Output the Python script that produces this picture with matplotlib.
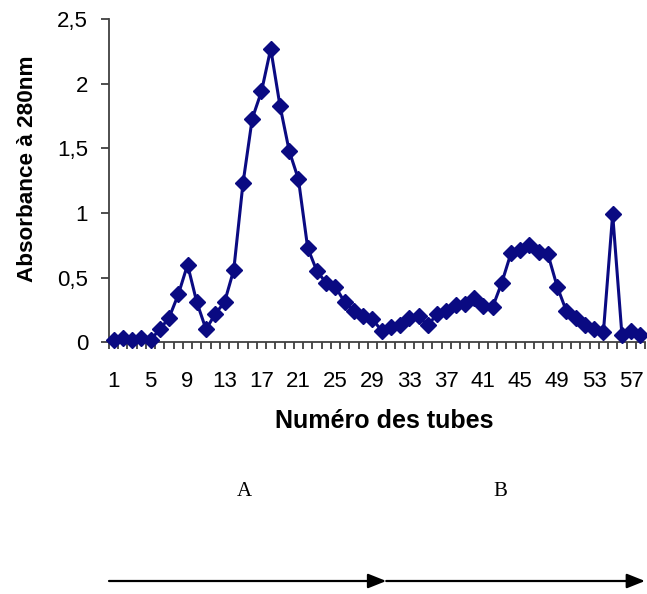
import numpy as np
import matplotlib
matplotlib.use('Agg')
import matplotlib.pyplot as plt
from matplotlib.ticker import FuncFormatter

# absorbance at 280 nm, tubes 1..58
tubes = np.arange(1, 59)
absorbance = [0.02, 0.03, 0.02, 0.03, 0.02, 0.10, 0.19, 0.37, 0.60, 0.31,
              0.10, 0.22, 0.31, 0.56, 1.23, 1.73, 1.94, 2.27, 1.83, 1.48,
              1.26, 0.73, 0.55, 0.46, 0.43, 0.31, 0.24, 0.20, 0.18, 0.09,
              0.12, 0.13, 0.19, 0.20, 0.13, 0.22, 0.24, 0.29, 0.30, 0.34,
              0.28, 0.27, 0.46, 0.69, 0.71, 0.75, 0.70, 0.68, 0.43, 0.24,
              0.19, 0.13, 0.10, 0.08, 0.99, 0.06, 0.09, 0.06]
xtick_labels = list(range(1, 58, 4))
fractions = ['A', 'B']
fraction_pos = [15.1, 42.8]
fraction_bounds = [0.5, 30.5, 58.5]

W, H = 647, 594
fig = plt.figure(figsize=(W / 100, H / 100), dpi=100)
ax = fig.add_axes([109 / W, 1 - 342.3 / H, (645 - 109) / W, (342.3 - 19) / H])

navy = '#0a0a82'
ax.plot(tubes, absorbance, color=navy, lw=2.2, marker='D', markersize=8,
        markerfacecolor=navy, markeredgecolor=navy, clip_on=False, zorder=3)

ax.set_xlim(0.5, 58.5)
ax.set_ylim(0, 2.5)

for s in ['top', 'right']:
    ax.spines[s].set_visible(False)
for s in ['left', 'bottom']:
    ax.spines[s].set_color('#404040')
    ax.spines[s].set_linewidth(1.3)

ax.set_xticks(xtick_labels)
ax.set_xticklabels([str(v) for v in xtick_labels])
ax.set_xticks(np.arange(0.5, 59, 1), minor=True)
ax.tick_params(axis='x', which='major', length=0, pad=21, labelsize=16)
ax.tick_params(axis='x', which='minor', length=5, width=1.3, color='#404040',
               direction='out')
ax.set_yticks(np.arange(0, 2.51, 0.5))
ax.yaxis.set_major_formatter(FuncFormatter(lambda v, p: ('%g' % v).replace('.', ',')))
ax.tick_params(axis='y', length=6, width=1.3, color='#404040', pad=9, labelsize=16)

for lab in ax.get_xticklabels() + ax.get_yticklabels():
    lab.set_family('Liberation Sans')

ax.set_xlabel('Numéro des tubes', family='Liberation Sans', fontweight='bold',
              fontsize=18)
ax.set_ylabel('Absorbance à 280nm', family='Liberation Sans', fontweight='bold',
              fontsize=16.2)
ax.xaxis.set_label_coords(0.513, -(409 - 342.3) / 323.3)
ax.yaxis.set_label_coords(-(109 - 38) / 536, (342.3 - 169) / 323.3)

# fraction labels and arrows below the chart
for name, xpos in zip(fractions, fraction_pos):
    ax.annotate(name, xy=(xpos, 1 - 492 / H), xycoords=('data', 'figure fraction'),
                ha='center', va='center', family='Liberation Serif', fontsize=15)
for x0, x1 in zip(fraction_bounds[:-1], fraction_bounds[1:]):
    ax.annotate('', xy=(x1, 1 - 581 / H), xytext=(x0, 1 - 581 / H),
                xycoords=('data', 'figure fraction'),
                textcoords=('data', 'figure fraction'),
                arrowprops=dict(arrowstyle='-|>,head_length=0.55,head_width=0.22',
                                mutation_scale=20, lw=1.6, color='black',
                                shrinkA=0, shrinkB=0))

fig.savefig('out.png', dpi=100)
